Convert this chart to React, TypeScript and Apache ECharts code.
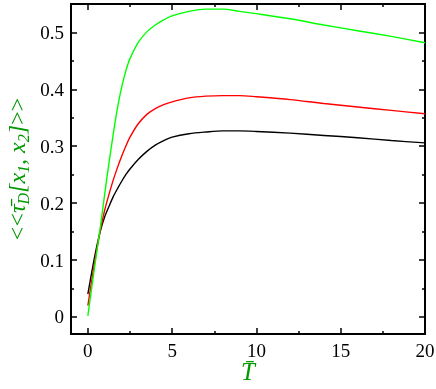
import React, { useEffect, useRef } from "react";
import * as echarts from "echarts";

const tValues = [0, 0.25, 0.5, 0.75, 1, 1.25, 1.5, 1.75, 2, 2.25, 2.5, 3, 3.5, 4, 4.5, 5, 6, 7, 8, 9, 10, 12, 14, 16, 18, 20];
const greenValues = [0.002, 0.056, 0.108, 0.160, 0.216, 0.270, 0.320, 0.366, 0.403, 0.432, 0.454, 0.483, 0.501, 0.513, 0.522, 0.529, 0.537, 0.541, 0.541, 0.537, 0.533, 0.524, 0.513, 0.503, 0.493, 0.482];
const redValues = [0.020, 0.068, 0.113, 0.154, 0.188, 0.215, 0.240, 0.262, 0.282, 0.300, 0.316, 0.340, 0.356, 0.366, 0.373, 0.378, 0.385, 0.388, 0.389, 0.389, 0.387, 0.382, 0.375, 0.369, 0.363, 0.357];
const blackValues = [0.040, 0.082, 0.120, 0.152, 0.176, 0.194, 0.211, 0.225, 0.238, 0.250, 0.260, 0.277, 0.291, 0.302, 0.310, 0.316, 0.322, 0.325, 0.327, 0.327, 0.326, 0.323, 0.319, 0.315, 0.310, 0.306];

const xMajorTicks = [0, 5, 10, 15, 20];
const xMinorTicks = [2.5, 7.5, 12.5, 17.5];
const yMajorTicks = [0, 0.1, 0.2, 0.3, 0.4, 0.5];
const yMinorTicks = [0.05, 0.15, 0.25, 0.35, 0.45];

const X_MIN = -1;
const X_MAX = 20;
const Y_MIN = -0.03;
const Y_MAX = 0.55;

const LABEL_GREEN = "#009900";
const FONT = "'Liberation Serif', 'Times New Roman', serif";

function pairs(ys: number[]) {
  return tValues.map((t, i) => [t, ys[i]]);
}

function makeAxis(
  position: string,
  min: number,
  max: number,
  ticks: number[],
  len: number,
  withLabels: boolean,
  extra: any = {},
  labelExtra: any = {}
) {
  return {
    type: "value",
    position,
    min,
    max,
    splitLine: { show: false },
    axisLine: { show: true, onZero: false, lineStyle: { color: "#000", width: 2 } },
    axisTick: {
      show: true,
      inside: true,
      length: len,
      customValues: ticks,
      lineStyle: { color: "#000", width: 1.5 },
    },
    axisLabel: withLabels
      ? {
          show: true,
          customValues: ticks,
          color: "#000",
          fontFamily: FONT,
          fontSize: 19,
          margin: 7,
          formatter: (v: number) => String(Math.round(v * 100) / 100),
          ...labelExtra,
        }
      : { show: false },
    ...extra,
  };
}

export default function App() {
  const ref = useRef<HTMLDivElement>(null);
  useEffect(() => {
    if (!ref.current) return;
    const chart = echarts.init(ref.current, undefined, { renderer: "svg" });
    chart.setOption({
      animation: false,
      grid: { left: 71, right: 11, top: 4, bottom: 55, containLabel: false, outerBoundsMode: "none" },
      xAxis: [
        makeAxis(
          "bottom",
          X_MIN,
          X_MAX,
          xMajorTicks,
          6,
          true,
          {
            name: "T\u0304",
            nameLocation: "middle",
            nameGap: 30,
            nameMoveOverlap: false,
            nameTextStyle: { color: LABEL_GREEN, fontFamily: FONT, fontSize: 25, fontStyle: "italic", lineHeight: 14 },
          },
          { lineHeight: 15, margin: 9 }
        ),
        makeAxis("bottom", X_MIN, X_MAX, xMinorTicks, 3, false),
        makeAxis("top", X_MIN, X_MAX, xMajorTicks, 6, false),
        makeAxis("top", X_MIN, X_MAX, xMinorTicks, 3, false),
      ],
      yAxis: [
        makeAxis("left", Y_MIN, Y_MAX, yMajorTicks, 6, true, {
          name: "{a|<<}{b|\u03C4\u0304}{s|D}{b|[x}{s|1}{b|, x}{s|2}{b|]}{a|>>}",
          nameLocation: "middle",
          nameRotate: 90,
          nameGap: 40,
          nameMoveOverlap: false,
          nameTextStyle: {
            color: LABEL_GREEN,
            fontFamily: FONT,
            fontSize: 24,
            rich: {
              a: { color: LABEL_GREEN, fontFamily: FONT, fontSize: 24 },
              b: { color: LABEL_GREEN, fontFamily: FONT, fontSize: 24, fontStyle: "italic" },
              s: { color: LABEL_GREEN, fontFamily: FONT, fontSize: 16, fontStyle: "italic", padding: [12, 0, 0, 0] },
            },
          },
        }),
        makeAxis("left", Y_MIN, Y_MAX, yMinorTicks, 3, false),
        makeAxis("right", Y_MIN, Y_MAX, yMajorTicks, 6, false),
        makeAxis("right", Y_MIN, Y_MAX, yMinorTicks, 3, false),
      ],
      series: [
        { name: "black", type: "line", data: pairs(blackValues), color: "#000000" },
        { name: "red", type: "line", data: pairs(redValues), color: "#ff0000" },
        { name: "green", type: "line", data: pairs(greenValues), color: "#00ff00" },
      ].map((s) => ({
        ...s,
        xAxisIndex: 0,
        yAxisIndex: 0,
        showSymbol: false,
        smooth: 0.3,
        lineStyle: { width: 1.4, color: s.color },
      })),
    });
    return () => chart.dispose();
  }, []);
  return <div ref={ref} style={{ position: "fixed", left: 0, top: 0, width: 436, height: 389 }} />;
}
